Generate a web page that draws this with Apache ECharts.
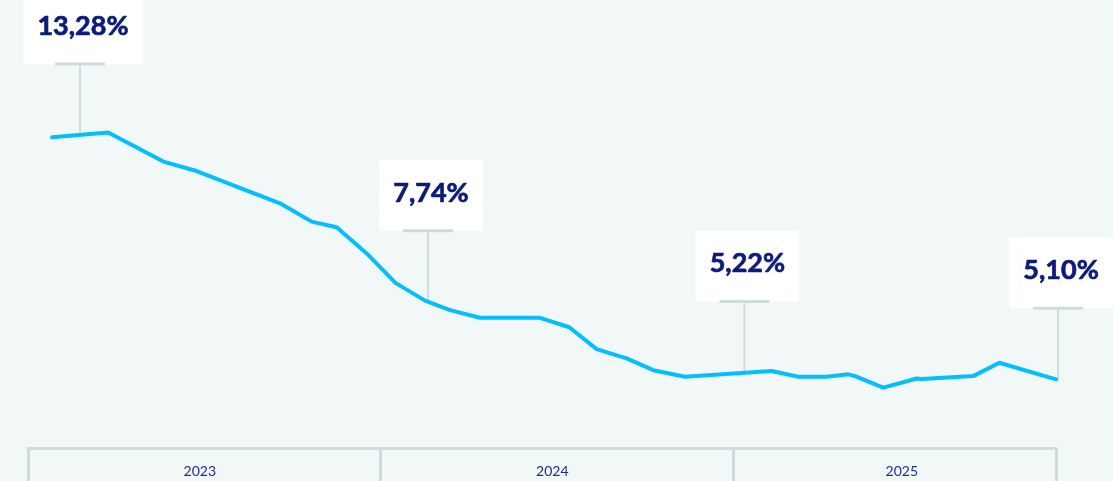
<!DOCTYPE html>
<html>
<head>
<meta charset="utf-8">
<script src="https://cdn.jsdelivr.net/npm/echarts@6/dist/echarts.min.js"></script>
<style>
  html, body { margin: 0; padding: 0; background: #f2f8f8; }
  #chart { width: 1113px; height: 481px; }
</style>
</head>
<body>
<div id="chart"></div>
<script>
// x = months since Jan 2023, y = rate in %
const months = [0.82, 2.73, 4.61, 5.74, 8.58, 9.66, 10.51, 11.59, 12.51, 13.52, 14.37, 15.39, 17.43, 18.43, 19.36, 20.38, 21.29, 22.37, 25.32, 26.23, 27.19, 27.93, 28.16, 29.12, 30.26, 30.43, 32.18, 33.07, 35]
const rates = [13.28, 13.44, 12.46, 12.14, 11.05, 10.43, 10.24, 9.30, 8.36, 7.76, 7.44, 7.18, 7.18, 6.86, 6.12, 5.81, 5.41, 5.19, 5.38, 5.19, 5.19, 5.27, 5.21, 4.82, 5.13, 5.11, 5.21, 5.66, 5.10]

// callouts sitting on the line
const calloutMonths = [1.77, 13.62, 24.39, 35.07]
const calloutRates = [13.36, 7.72, 5.33, 5.10]
const calloutLabels = ['13,28%', '7,74%', '5,22%', '5,10%']

// year brackets
const yearTicks = [0, 12, 24, 35]
const yearLabelPos = [5.85, 17.85, 29.75]
const yearLabels = ['2023', '2024', '2025']

const navy = '#0c1a7a'
const grey = '#cfdcdd'

const myChart = echarts.init(document.getElementById('chart'))

const lineData = months.map((m, i) => [m, rates[i]])
const calloutData = calloutMonths.map((m, i) => [m, calloutRates[i]])

const option = {
  backgroundColor: '#f2f8f8',
  animation: false,
  grid: { left: 28, right: 57, top: 0, bottom: 33 },
  xAxis: {
    type: 'value',
    min: 0,
    max: 35,
    splitLine: { show: false },
    axisLine: { show: true, lineStyle: { color: grey, width: 3 } },
    axisTick: {
      show: true,
      customValues: yearTicks,
      length: 34,
      lineStyle: { color: grey, width: 3 }
    },
    axisLabel: {
      customValues: yearLabelPos,
      formatter: (v) => yearLabels[yearLabelPos.indexOf(v)] || '',
      margin: 16,
      color: '#1f2d8c',
      fontFamily: 'Lato',
      fontSize: 14
    }
  },
  yAxis: {
    type: 'value',
    min: 2.78,
    max: 17.92,
    show: false
  },
  series: [
    {
      type: 'custom',
      z: 1,
      clip: false,
      data: calloutData,
      encode: { x: 0, y: 1 },
      renderItem: (params, api) => {
        const p = api.coord([api.value(0), api.value(1)])
        const top = p[1] - 71
        return {
          type: 'group',
          children: [
            {
              type: 'text',
              z2: 1,
              x: p[0] + 3,
              y: top,
              style: {
                text: calloutLabels[params.dataIndex],
                fill: navy,
                stroke: navy,
                lineWidth: 0.7,
                font: 'bold 27px Lato',
                align: 'center',
                verticalAlign: 'bottom',
                lineHeight: 30,
                backgroundColor: '#ffffff',
                padding: [18, 14, 23, 14]
              }
            },
            {
              type: 'line',
              z2: 2,
              shape: { x1: p[0], y1: top, x2: p[0], y2: p[1] },
              style: { stroke: grey, lineWidth: 2 }
            },
            {
              type: 'line',
              z2: 2,
              shape: { x1: p[0] - 25, y1: top, x2: p[0] + 25, y2: top },
              style: { stroke: grey, lineWidth: 3 }
            }
          ]
        }
      }
    },
    {
      type: 'line',
      z: 3,
      data: lineData,
      symbol: 'none',
      lineStyle: { color: '#05befc', width: 4, cap: 'round', join: 'round' }
    }
  ]
}

myChart.setOption(option)
</script>
</body>
</html>
